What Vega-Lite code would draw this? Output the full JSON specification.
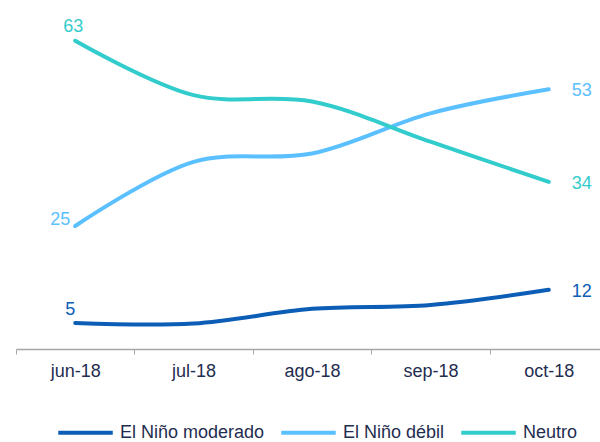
{
  "$schema": "https://vega.github.io/schema/vega-lite/v6.json",
  "autosize": {"type": "none"},
  "width": 584,
  "height": 343,
  "padding": {"left": 16, "top": 6, "right": 0, "bottom": 93},
  "background": "white",
  "config": {"view": {"stroke": null}, "font": "Liberation Sans"},
  "data": {
    "values": [
      {"month": "jun-18", "series": "El Niño moderado", "value": 5.3},
      {"month": "jul-18", "series": "El Niño moderado", "value": 5.2},
      {"month": "ago-18", "series": "El Niño moderado", "value": 8.2},
      {"month": "sep-18", "series": "El Niño moderado", "value": 9.0},
      {"month": "oct-18", "series": "El Niño moderado", "value": 12.1},
      {"month": "jun-18", "series": "El Niño débil", "value": 25.1},
      {"month": "jul-18", "series": "El Niño débil", "value": 38.2},
      {"month": "ago-18", "series": "El Niño débil", "value": 39.9},
      {"month": "sep-18", "series": "El Niño débil", "value": 48.1},
      {"month": "oct-18", "series": "El Niño débil", "value": 53.0},
      {"month": "jun-18", "series": "Neutro", "value": 62.9},
      {"month": "jul-18", "series": "Neutro", "value": 51.8},
      {"month": "ago-18", "series": "Neutro", "value": 50.5},
      {"month": "sep-18", "series": "Neutro", "value": 42.3},
      {"month": "oct-18", "series": "Neutro", "value": 34.1}
    ]
  },
  "encoding": {
    "x": {
      "field": "month",
      "type": "nominal",
      "sort": ["jun-18", "jul-18", "ago-18", "sep-18", "oct-18"],
      "scale": {"type": "band", "paddingInner": 0, "paddingOuter": 0, "range": [0, 592]},
      "axis": {
        "title": null,
        "labelAngle": 0,
        "labelFontSize": 18,
        "labelColor": "#1F2D50",
        "labelPadding": 8,
        "tickSize": 5,
        "tickBand": "extent",
        "tickColor": "#A6A6A6",
        "domainColor": "#A6A6A6",
        "domainWidth": 1.5,
        "grid": false
      }
    },
    "y": {
      "field": "value",
      "type": "quantitative",
      "scale": {"domain": [0, 70]},
      "axis": null
    },
    "color": {
      "field": "series",
      "type": "nominal",
      "scale": {
        "domain": ["El Niño moderado", "El Niño débil", "Neutro"],
        "range": ["#0C5DB5", "#5BC0FF", "#33CCCC"]
      },
      "legend": {
        "title": null,
        "orient": "none",
        "direction": "horizontal",
        "legendX": 40,
        "legendY": 397,
        "padding": 0,
        "symbolType": "stroke",
        "symbolSize": 2970,
        "symbolStrokeWidth": 4,
        "labelFontSize": 18,
        "labelColor": "#1F2D50",
        "labelOffset": 5,
        "columnPadding": 8
      }
    }
  },
  "layer": [
    {"mark": {"type": "line", "interpolate": "catmull-rom", "strokeWidth": 4, "strokeCap": "round"}},
    {
      "transform": [{"filter": "datum.month == 'jun-18' && datum.series == 'Neutro'"}],
      "mark": {"type": "text", "fontSize": 18, "align": "center", "baseline": "alphabetic", "dx": -2, "dy": -8.7},
      "encoding": {"text": {"field": "value", "type": "quantitative", "format": ".0f"}}
    },
    {
      "transform": [{"filter": "datum.month == 'jun-18' && datum.series == 'El Niño débil'"}],
      "mark": {"type": "text", "fontSize": 18, "align": "right", "baseline": "alphabetic", "dx": -5, "dy": -1},
      "encoding": {"text": {"field": "value", "type": "quantitative", "format": ".0f"}}
    },
    {
      "transform": [{"filter": "datum.month == 'jun-18' && datum.series == 'El Niño moderado'"}],
      "mark": {"type": "text", "fontSize": 18, "align": "right", "baseline": "alphabetic", "dx": 0, "dy": -7.7},
      "encoding": {"text": {"field": "value", "type": "quantitative", "format": ".0f"}}
    },
    {
      "transform": [{"filter": "datum.month == 'oct-18'"}],
      "mark": {"type": "text", "fontSize": 18, "align": "left", "baseline": "alphabetic", "dx": 23, "dy": 7},
      "encoding": {"text": {"field": "value", "type": "quantitative", "format": ".0f"}}
    }
  ]
}
